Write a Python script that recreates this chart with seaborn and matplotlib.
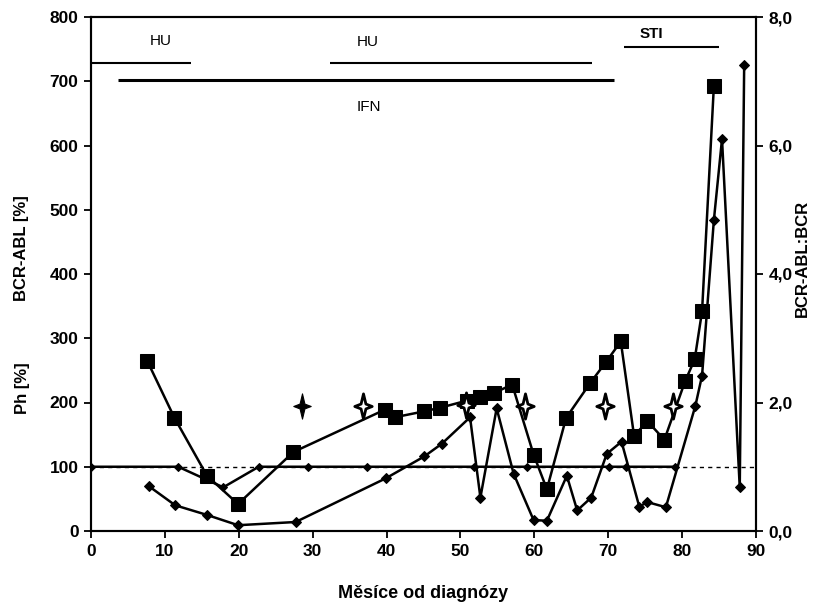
import matplotlib
matplotlib.use("Agg")
import matplotlib.pyplot as plt
from matplotlib.path import Path
import seaborn as sns

# ---------------- data ----------------
bcr_month = [7.6, 11.3, 15.7, 19.9, 27.4, 39.8, 41.1, 45.0, 47.3, 50.9, 52.6, 54.6, 57.0,
             59.9, 61.7, 64.3, 67.6, 69.7, 71.7, 73.5, 75.3, 77.6, 80.4, 81.7, 82.7, 84.3]
bcr_pct = [265, 176, 86, 42, 123, 189, 177, 186, 192, 203, 209, 215, 228,
           119, 65, 176, 231, 263, 295, 148, 171, 142, 233, 267, 342, 693]

ph_month = [0, 11.8, 17.9, 22.7, 29.4, 37.3, 51.8, 59.0, 70.1, 72.4, 79.0]
ph_pct = [100, 100, 68, 100, 100, 100, 100, 100, 100, 100, 100]

ratio_month = [7.8, 11.4, 15.7, 19.9, 27.7, 39.9, 45.1, 47.5, 51.3, 52.7, 54.9, 57.2, 59.9, 61.7,
               64.4, 65.8, 67.7, 69.8, 71.8, 74.2, 75.3, 77.8, 81.8, 82.7, 84.3, 85.4, 87.8, 88.4]
ratio = [0.70, 0.40, 0.25, 0.09, 0.14, 0.82, 1.16, 1.36, 1.77, 0.52, 1.91, 0.89, 0.17, 0.16,
         0.86, 0.32, 0.52, 1.20, 1.39, 0.38, 0.45, 0.37, 1.95, 2.42, 4.84, 6.10, 0.68, 7.25]

star_month_filled = [28.5]
star_val_filled = [195]
star_month_open = [36.8, 50.7, 58.8, 69.5, 78.7]
star_val_open = [195, 196, 195, 195, 195]

therapy_names = ["HU", "HU", "IFN", "STI"]
therapy_start = [0, 32.4, 3.7, 72.1]
therapy_end = [13.6, 67.8, 70.8, 85.0]
therapy_level = [729, 729, 702, 754]
therapy_label_x = [9.5, 37.5, 37.6, 75.8]
therapy_label_y = [763, 761, 660, 774]

x_ticks = [0, 10, 20, 30, 40, 50, 60, 70, 80, 90]
y_ticks = [0, 100, 200, 300, 400, 500, 600, 700, 800]
y2_ticks = [0, 2, 4, 6, 8]
y2_labels = ["0,0", "2,0", "4,0", "6,0", "8,0"]

# ---------------- style ----------------
sns.set_style("ticks")
plt.rcParams['font.family'] = ['Liberation Sans', 'DejaVu Sans']
plt.rcParams['font.weight'] = 'bold'
plt.rcParams['text.color'] = 'black'
plt.rcParams['axes.labelcolor'] = 'black'
plt.rcParams['xtick.color'] = 'black'
plt.rcParams['ytick.color'] = 'black'

fig = plt.figure(figsize=(8.17, 6.15), dpi=100)
ax = fig.add_axes([91/817, 1 - 531/615, (756 - 91)/817, (531 - 17)/615])
ax2 = ax.twinx()

# reference line at 100
ax.axhline(100, color='black', lw=1.0, ls=(0, (3, 3)), zorder=1)

# Ph series
sns.lineplot(x=ph_month, y=ph_pct, ax=ax, color='black', lw=1.8, marker='D',
             markersize=4.5, markeredgecolor='black', estimator=None, sort=False, zorder=3)

# BCR-ABL % (squares)
sns.lineplot(x=bcr_month, y=bcr_pct, ax=ax, color='black', lw=1.8, marker='s',
             markersize=9.5, markeredgecolor='black', estimator=None, sort=False, zorder=4)

# stars
star_path = Path([(0, 1.3), (0.25, 0.25), (0.9, 0), (0.25, -0.25), (0, -1.3),
                  (-0.25, -0.25), (-0.9, 0), (-0.25, 0.25), (0, 1.3)], closed=True)
sns.scatterplot(x=star_month_filled, y=star_val_filled, ax=ax, marker=star_path, s=330,
                color='black', edgecolor='black', linewidth=0.8, zorder=5)
sns.scatterplot(x=star_month_open, y=star_val_open, ax=ax, marker=star_path, s=330,
                color='white', edgecolor='black', linewidth=2.0, zorder=5)

# therapy bars
for name, s, e, lev, lx, ly in zip(therapy_names, therapy_start, therapy_end, therapy_level,
                                    therapy_label_x, therapy_label_y):
    ax.plot([s, e], [lev, lev], color='black', lw=2.2 if name == "IFN" else 1.5,
            solid_capstyle='butt', zorder=2)
    ax.text(lx, ly, name, ha='center', va='center', fontsize=11,
            fontweight='bold' if name == "STI" else 'normal')

# ratio series on right axis
sns.lineplot(x=ratio_month, y=ratio, ax=ax2, color='black', lw=1.8, marker='D',
             markersize=5, markeredgecolor='black', estimator=None, sort=False, zorder=4)

# ---------------- axes ----------------
ax.set_xlim(0, 90)
ax.set_ylim(0, 800)
ax2.set_ylim(0, 8)
ax.set_xticks(x_ticks)
ax.set_xticklabels([str(t) for t in x_ticks], fontsize=12.5, fontweight='bold')
ax.set_yticks(y_ticks)
ax.set_yticklabels([str(t) for t in y_ticks], fontsize=12.5, fontweight='bold')
ax2.set_yticks(y2_ticks)
ax2.set_yticklabels(y2_labels, fontsize=12.5, fontweight='bold')

for a in (ax, ax2):
    for sp in a.spines.values():
        sp.set_visible(True)
        sp.set_color('black')
        sp.set_linewidth(1.5)
    a.tick_params(direction='out', length=5, width=1.3, colors='black', pad=4)
ax.set_xlabel("")
ax.set_ylabel("")
ax2.set_ylabel("")

fig.text(0.5 * (91 + 756) / 817, 1 - 593/615, "Měsíce od diagnózy", ha='center', va='center',
         fontsize=13, fontweight='bold')
fig.text(22/817, 1 - 248/615, "BCR-ABL [%]", rotation=90, ha='center', va='center',
         fontsize=12, fontweight='bold')
fig.text(22/817, 1 - 388/615, "Ph [%]", rotation=90, ha='center', va='center',
         fontsize=12, fontweight='bold')
fig.text(802/817, 1 - 258/615, "BCR-ABL:BCR", rotation=90, ha='center', va='center',
         fontsize=12, fontweight='bold')

fig.savefig("out.png", dpi=100)
